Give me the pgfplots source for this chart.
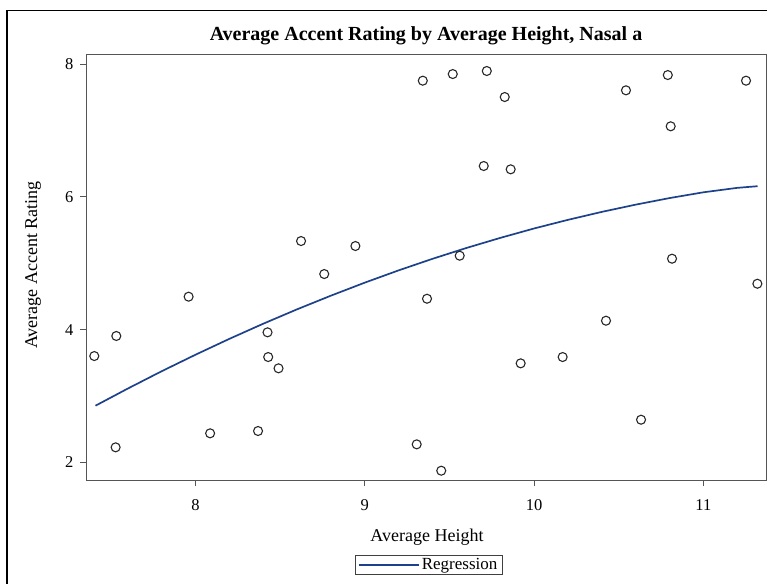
\documentclass[border=0pt]{standalone}
\usepackage{pgfplots}
\pgfplotsset{compat=1.18}
\usepackage{fontspec}
\setmainfont{Liberation Serif}
\definecolor{fitblue}{RGB}{29,66,138}
\definecolor{axgray}{RGB}{85,85,85}
\definecolor{mkgray}{RGB}{40,40,40}
\begin{document}
\begin{tikzpicture}[x=1pt,y=1pt]
\useasboundingbox (0,0) rectangle (767,583);
\draw[black, line width=1.2pt] (7,-20) rectangle (790,572.5);
\begin{axis}[
  at={(86pt,103pt)}, anchor=south west,
  scale only axis, width=680pt, height=425pt,
  xmin=7.354, xmax=11.370, ymin=1.735, ymax=8.136,
  axis line style={axgray, line width=1pt},
  xtick={8,9,10,11}, ytick={2,4,6,8},
  tick align=outside, xtick pos=bottom, ytick pos=left,
  major tick length=6pt,
  tick style={axgray, line width=0.9pt},
  tick label style={font=\fontsize{16.5}{18}\selectfont},
  /pgf/number format/assume math mode=true,
  xticklabel style={yshift=-10pt},
  yticklabel style={xshift=-3pt},
  legend style={at={(axis description cs:0.504,-0.2)}, anchor=center,
    draw=black!75, line width=0.8pt, inner xsep=3pt, inner ysep=1.5pt,
    font=\fontsize{17}{19}\selectfont},
  legend image code/.code={\draw[#1] (0pt,0pt) -- (60pt,0pt);},
]
\addplot[only marks, mark=o, mark size=4.5pt, mark options={draw=mkgray, line width=1.1pt}, forget plot] coordinates {
(8.624,5.334)
(9.343,7.749) (9.520,7.849) (9.721,7.895) (9.827,7.503) (9.703,6.464) (9.862,6.414) (8.945,5.259) (9.561,5.113)
(10.543,7.604) (10.790,7.834) (11.252,7.749) (10.807,7.062) (10.815,5.068)
(7.403,3.602) (7.533,3.904) (7.960,4.496) (8.426,3.959) (8.430,3.587) (8.491,3.417) (7.529,2.227) (8.087,2.438) (8.370,2.473)
(8.761,4.837) (9.368,4.465) (9.921,3.492) (9.307,2.272) (9.452,1.875)
(10.169,3.587) (10.425,4.134) (11.319,4.691) (10.632,2.643)
};
\addplot[fitblue, line width=1.7pt] coordinates {
(7.41,2.854) (7.6,3.111) (7.8,3.372) (8.0,3.621) (8.2,3.860) (8.4,4.088) (8.6,4.305) (8.8,4.511) (9.0,4.707) (9.2,4.892) (9.4,5.066) (9.6,5.229) (9.8,5.381) (10.0,5.523) (10.2,5.653) (10.4,5.773) (10.6,5.882) (10.8,5.981) (11.0,6.068) (11.2,6.135) (11.32,6.160)
};
\addlegendentry{Regression}
\end{axis}
\node[font=\bfseries\fontsize{20}{23}\selectfont] at (426,547) {Average Accent Rating by Average Height, Nasal a};
\node[font=\fontsize{18}{20}\selectfont, rotate=90] at (33,318) {Average Accent Rating};
\node[font=\fontsize{18}{20}\selectfont] at (427,46) {Average Height};
\end{tikzpicture}
\end{document}
